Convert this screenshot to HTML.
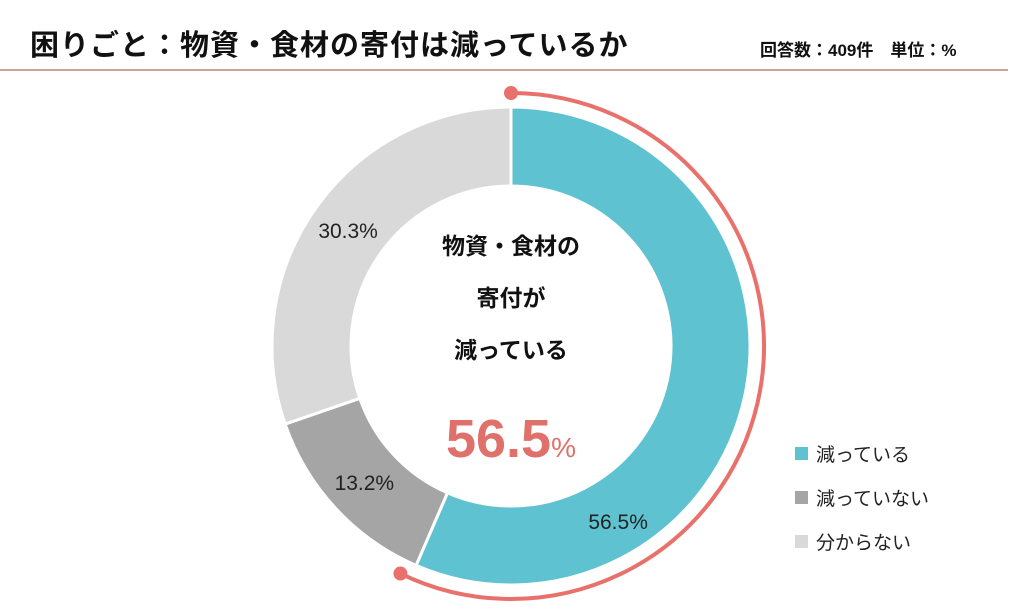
<!DOCTYPE html>
<html><head><meta charset="utf-8"><style>
body{margin:0;width:1024px;height:613px;background:#fff;font-family:"Liberation Sans","Noto Sans CJK JP",sans-serif;overflow:hidden;position:relative}
.t{position:absolute;color:#111}
</style></head><body>
<div class="t" style="left:30px;top:22px;font-size:29px;font-weight:bold;letter-spacing:1px">困りごと：物資・食材の寄付は減っているか</div>
<div class="t" style="left:760px;top:36px;font-size:17px;font-weight:bold">回答数：409件　単位：%</div>
<div style="position:absolute;left:0;top:69px;width:1008px;height:2px;background:#c9a396"></div>
<svg id="chart" width="1024" height="613" style="position:absolute;left:0;top:0"></svg>
<script>
const categories=["減っている","減っていない","分からない"];
const values=[56.5,13.2,30.3];
const labels=["56.5%","13.2%","30.3%"];
const colors=["#5fc2d0","#a5a5a5","#d9d9d9"];
const svg=document.getElementById('chart');const NS="http://www.w3.org/2000/svg";
const cx=511,cy=346,R=239,r=160;
const total=values.reduce((a,b)=>a+b,0);
function pt(rad,frac){const a=frac*2*Math.PI;return [cx+rad*Math.sin(a),cy-rad*Math.cos(a)];}
let acc=0;
values.forEach((v,i)=>{
 const s=acc/total,e=(acc+v)/total;acc+=v;
 const [x1,y1]=pt(R,s),[x2,y2]=pt(R,e),[x3,y3]=pt(r,e),[x4,y4]=pt(r,s);
 const lg=(e-s)>0.5?1:0;
 const p=document.createElementNS(NS,'path');
 p.setAttribute('d',`M${x1},${y1}A${R},${R} 0 ${lg} 1 ${x2},${y2}L${x3},${y3}A${r},${r} 0 ${lg} 0 ${x4},${y4}Z`);
 p.setAttribute('fill',colors[i]);p.setAttribute('stroke','#fff');p.setAttribute('stroke-width','3');
 
 
 svg.appendChild(p);
 const m=(s+e)/2;const [lx,ly]=pt(i==0?205:200,i==0?m+0.13:m);
 const t=document.createElementNS(NS,'text');
 t.setAttribute('x',lx);t.setAttribute('y',ly+8);t.setAttribute('text-anchor','middle');
 t.setAttribute('font-size','21');t.setAttribute('fill','#222');t.textContent=labels[i];
 
 
 svg.appendChild(t);
});
const hf=values[0]/total+0.007;const RA=253;
const [ax,ay]=pt(RA,0),[bx,by]=pt(RA,hf);
const arc=document.createElementNS(NS,'path');
arc.setAttribute('d',`M${ax},${ay}A${RA},${RA} 0 ${hf>0.5?1:0} 1 ${bx},${by}`);
arc.setAttribute('fill','none');arc.setAttribute('stroke','#e8716b');arc.setAttribute('stroke-width','4');


svg.appendChild(arc);
[[ax,ay],[bx,by]].forEach((c,k)=>{const d=document.createElementNS(NS,'circle');d.setAttribute('cx',c[0]);d.setAttribute('cy',c[1]);d.setAttribute('r','7');d.setAttribute('fill','#e8716b');


svg.appendChild(d);});
categories.forEach((c,i)=>{
 const y=454+i*44;
 const b=document.createElementNS(NS,'rect');b.setAttribute('x',795);b.setAttribute('y',y-7);b.setAttribute('width',13);b.setAttribute('height',13);b.setAttribute('fill',colors[i]);
 
 
 svg.appendChild(b);
 const t=document.createElementNS(NS,'text');t.setAttribute('x',816);t.setAttribute('y',y+7);t.setAttribute('font-size','19');t.setAttribute('fill','#222');t.textContent=c;
 
 
 svg.appendChild(t);
});
</script>
<div class="t" style="left:411px;top:220px;width:200px;text-align:center;font-size:23px;font-weight:bold;line-height:52px">物資・食材の<br>寄付が<br>減っている</div>
<div class="t" style="left:411px;top:408px;width:200px;text-align:center;color:#e0706a;font-weight:bold;font-size:54px">56.5<span style="font-size:28px;font-weight:normal">%</span></div>
</body></html>
